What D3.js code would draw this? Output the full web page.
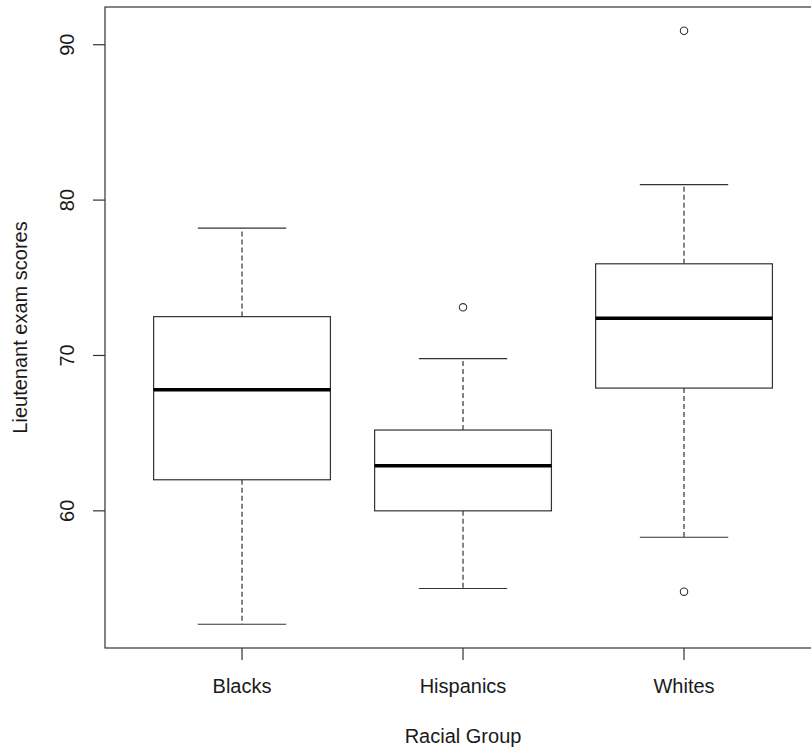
<!DOCTYPE html>
<html>
<head>
<meta charset="utf-8">
<script src="https://cdn.jsdelivr.net/npm/d3@7"></script>
<style>
  html, body { margin: 0; padding: 0; background: #fff; }
  svg { display: block; }
  text { font-family: "Liberation Sans", Arial, sans-serif; fill: #1a1a1a; }
</style>
</head>
<body>
<svg id="chart" width="811" height="750"></svg>
<script>
// ---- data ----
const categories = ["Blacks", "Hispanics", "Whites"];
const lowerWhisker = [52.7, 55.0, 58.3];
const q1 = [62.0, 60.0, 67.9];
const median = [67.8, 62.9, 72.4];
const q3 = [72.5, 65.2, 75.9];
const upperWhisker = [78.2, 69.8, 81.0];
const outliers = [[], [73.1], [90.9, 54.8]];
const yTicks = [60, 70, 80, 90];
const xTitle = "Racial Group";
const yTitle = "Lieutenant exam scores";

// ---- layout ----
const svg = d3.select("#chart");
const plot = { left: 105, top: 7, bottom: 648 };
const lineColor = "#333";

// R-style ranges: 4% expansion
const allVals = [].concat(lowerWhisker, upperWhisker, ...outliers);
const yMin = d3.min(allVals), yMax = d3.max(allVals);
const yPad = (yMax - yMin) * 0.04;
const y = d3.scaleLinear().domain([yMin - yPad, yMax + yPad]).range([plot.bottom, plot.top]);

const n = categories.length;
const xPad = n * 0.04;
const xLo = 0.5 - xPad, xHi = n + 0.5 + xPad;
const unit = 221;
const x = d3.scaleLinear().domain([xLo, xHi]).range([plot.left, plot.left + unit * (xHi - xLo)]);
const plotRight = x(xHi);

const boxHalf = 0.4 * unit;
const capHalf = boxHalf / 2;

const g = svg.append("g");

// frame
g.append("rect")
  .attr("x", plot.left).attr("y", plot.top)
  .attr("width", plotRight - plot.left).attr("height", plot.bottom - plot.top)
  .attr("fill", "none").attr("stroke", lineColor).attr("stroke-width", 1.2);

// boxes
categories.forEach((c, i) => {
  const cx = x(i + 1);
  // whiskers dashed
  g.append("line").attr("x1", cx).attr("x2", cx).attr("y1", y(q3[i])).attr("y2", y(upperWhisker[i]))
    .attr("stroke", lineColor).attr("stroke-width", 1.2).attr("stroke-dasharray", "5,3");
  g.append("line").attr("x1", cx).attr("x2", cx).attr("y1", y(q1[i])).attr("y2", y(lowerWhisker[i]))
    .attr("stroke", lineColor).attr("stroke-width", 1.2).attr("stroke-dasharray", "5,3");
  // caps
  [upperWhisker[i], lowerWhisker[i]].forEach(v => {
    g.append("line").attr("x1", cx - capHalf).attr("x2", cx + capHalf).attr("y1", y(v)).attr("y2", y(v))
      .attr("stroke", lineColor).attr("stroke-width", 1.2);
  });
  // box
  g.append("rect").attr("x", cx - boxHalf).attr("width", 2 * boxHalf)
    .attr("y", y(q3[i])).attr("height", y(q1[i]) - y(q3[i]))
    .attr("fill", "#fff").attr("stroke", lineColor).attr("stroke-width", 1.2);
  // median
  g.append("line").attr("x1", cx - boxHalf).attr("x2", cx + boxHalf)
    .attr("y1", y(median[i])).attr("y2", y(median[i]))
    .attr("stroke", "#000").attr("stroke-width", 3.5);
  // outliers
  outliers[i].forEach(v => {
    g.append("circle").attr("cx", cx).attr("cy", y(v)).attr("r", 3.7)
      .attr("fill", "none").attr("stroke", lineColor).attr("stroke-width", 1.1);
  });
});

// y axis ticks + labels
yTicks.forEach(t => {
  g.append("line").attr("x1", plot.left - 12).attr("x2", plot.left).attr("y1", y(t)).attr("y2", y(t))
    .attr("stroke", lineColor).attr("stroke-width", 1.2);
  g.append("text").attr("transform", `translate(74,${y(t)}) rotate(-90)`)
    .attr("text-anchor", "middle").style("font-size", "20px").text(t);
});

// x axis ticks + labels
categories.forEach((c, i) => {
  const cx = x(i + 1);
  g.append("line").attr("x1", cx).attr("x2", cx).attr("y1", plot.bottom).attr("y2", plot.bottom + 12)
    .attr("stroke", lineColor).attr("stroke-width", 1.2);
  g.append("text").attr("x", cx).attr("y", 693).attr("text-anchor", "middle")
    .style("font-size", "20px").text(c);
});

// titles
g.append("text").attr("x", x((1 + n) / 2)).attr("y", 743).attr("text-anchor", "middle")
  .style("font-size", "20px").text(xTitle);
g.append("text").attr("transform", `translate(27,${(plot.top + plot.bottom) / 2}) rotate(-90)`)
  .attr("text-anchor", "middle").style("font-size", "20px").text(yTitle);
</script>
</body>
</html>
